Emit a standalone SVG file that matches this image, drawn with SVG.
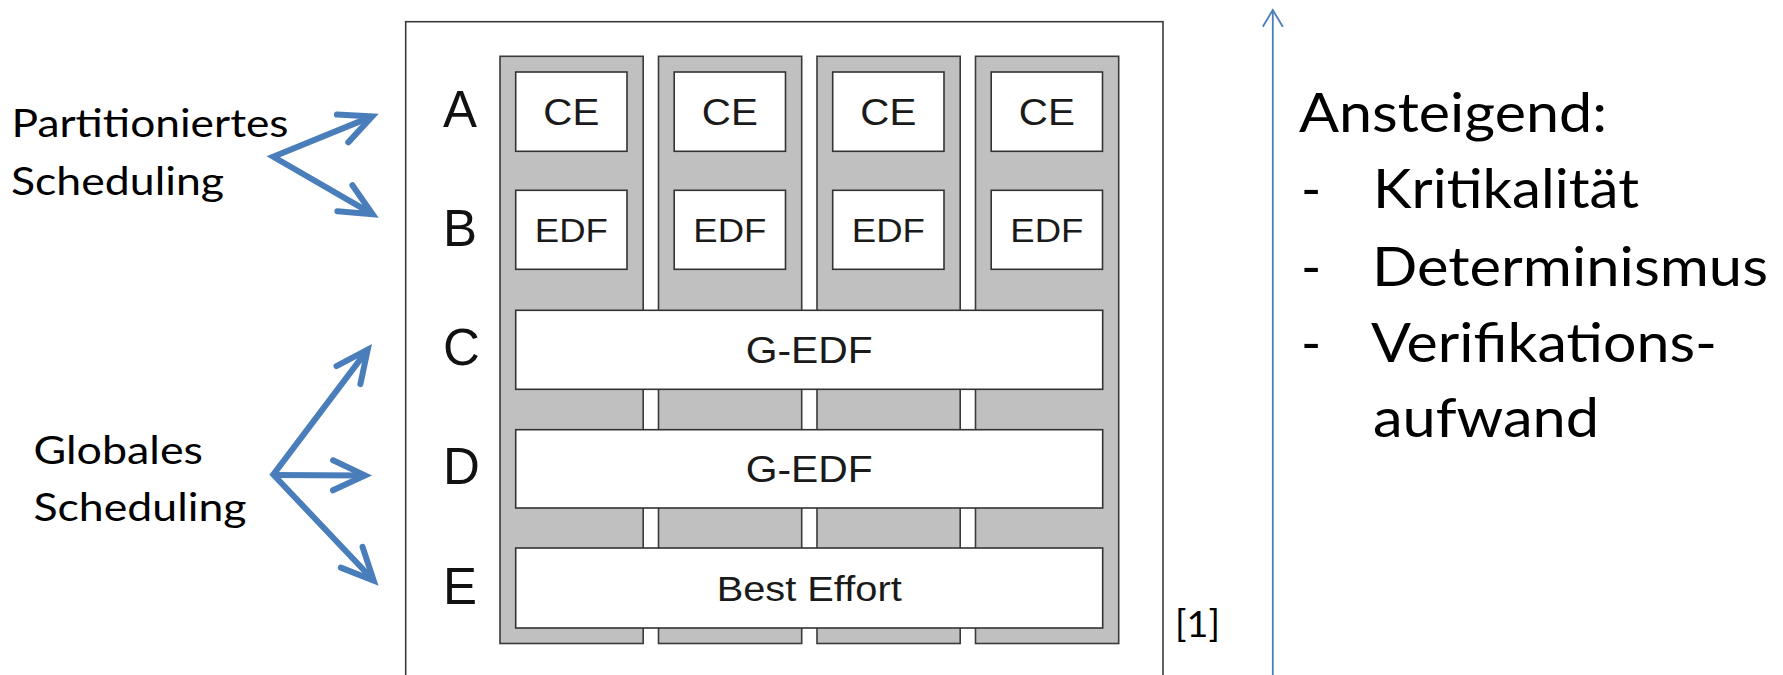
<svg xmlns="http://www.w3.org/2000/svg" width="1783" height="675" viewBox="0 0 1783 675">
<style>
.frame{fill:none;stroke:#3a3a3a;stroke-width:1.6}
.col{fill:#c0c0c0;stroke:#3a3a3a;stroke-width:1.6}
.box{fill:#ffffff;stroke:#333333;stroke-width:1.6}
.bt{font-family:"Liberation Sans",Arial,sans-serif;fill:#1a1a1a;text-anchor:middle}
.rl{font-family:"Liberation Sans",Arial,sans-serif;font-size:51px;fill:#111111}
.cal{font-family:Lato,"Open Sans",sans-serif;fill:#000000}
.arr{fill:none;stroke:#4a7ebb;stroke-width:6;stroke-linejoin:miter;stroke-linecap:butt}
.thin{fill:none;stroke:#4a7ebb;stroke-width:1.8}
</style>
<defs>
<marker id="head" markerUnits="userSpaceOnUse" orient="auto-start-reverse" refX="0" refY="0" markerWidth="60" markerHeight="60" viewBox="-40 -30 60 60" overflow="visible">
<path d="M-32,-15 L0,0 L-32,15" fill="none" stroke="#4a7ebb" stroke-width="6" stroke-linejoin="miter" stroke-linecap="round"/>
</marker>
<marker id="thinhead" markerUnits="userSpaceOnUse" orient="auto" refX="0" refY="0" markerWidth="40" markerHeight="40" viewBox="-30 -20 40 40" overflow="visible">
<path d="M-16.7,-10 L0,0 L-16.7,10" fill="none" stroke="#4a7ebb" stroke-width="1.8"/>
</marker>
</defs>

<g id="frame">
<rect class="frame" x="405.7" y="21.7" width="757.3" height="700"/>
</g>

<g id="columns">
<rect id="col1" class="col" x="500" y="56.3" width="143.2" height="587.2"/>
<rect id="col2" class="col" x="658.5" y="56.3" width="143.2" height="587.2"/>
<rect id="col3" class="col" x="817" y="56.3" width="143.2" height="587.2"/>
<rect id="col4" class="col" x="975.5" y="56.3" width="143.2" height="587.2"/>
</g>

<g id="row-labels">
<text class="rl" x="443" y="127">A</text>
<text class="rl" x="443" y="246">B</text>
<text class="rl" x="443" y="365">C</text>
<text class="rl" x="443" y="484">D</text>
<text class="rl" x="443" y="604">E</text>
</g>

<g id="ce1"><rect class="box" x="515.7" y="72" width="111.3" height="79.3"/><text class="bt" x="571.35" y="125" font-size="36" textLength="56" lengthAdjust="spacingAndGlyphs">CE</text></g>
<g id="ce2"><rect class="box" x="674.2" y="72" width="111.3" height="79.3"/><text class="bt" x="729.85" y="125" font-size="36" textLength="56" lengthAdjust="spacingAndGlyphs">CE</text></g>
<g id="ce3"><rect class="box" x="832.7" y="72" width="111.3" height="79.3"/><text class="bt" x="888.35" y="125" font-size="36" textLength="56" lengthAdjust="spacingAndGlyphs">CE</text></g>
<g id="ce4"><rect class="box" x="991.2" y="72" width="111.3" height="79.3"/><text class="bt" x="1046.85" y="125" font-size="36" textLength="56" lengthAdjust="spacingAndGlyphs">CE</text></g>

<g id="edf1"><rect class="box" x="515.7" y="190.3" width="111.3" height="79"/><text class="bt" x="571.35" y="242" font-size="33" textLength="73" lengthAdjust="spacingAndGlyphs">EDF</text></g>
<g id="edf2"><rect class="box" x="674.2" y="190.3" width="111.3" height="79"/><text class="bt" x="729.85" y="242" font-size="33" textLength="73" lengthAdjust="spacingAndGlyphs">EDF</text></g>
<g id="edf3"><rect class="box" x="832.7" y="190.3" width="111.3" height="79"/><text class="bt" x="888.35" y="242" font-size="33" textLength="73" lengthAdjust="spacingAndGlyphs">EDF</text></g>
<g id="edf4"><rect class="box" x="991.2" y="190.3" width="111.3" height="79"/><text class="bt" x="1046.85" y="242" font-size="33" textLength="73" lengthAdjust="spacingAndGlyphs">EDF</text></g>

<g id="gedf-c"><rect class="box" x="515.7" y="310.3" width="587" height="79"/><text class="bt" x="809.2" y="363" font-size="36" textLength="127" lengthAdjust="spacingAndGlyphs">G-EDF</text></g>
<g id="gedf-d"><rect class="box" x="515.7" y="429.7" width="587" height="78.3"/><text class="bt" x="809.2" y="482" font-size="36" textLength="127" lengthAdjust="spacingAndGlyphs">G-EDF</text></g>
<g id="best-effort"><rect class="box" x="515.7" y="548" width="587" height="80"/><text class="bt" x="809.2" y="601" font-size="35" textLength="185" lengthAdjust="spacingAndGlyphs">Best Effort</text></g>

<g id="label-partitioniert">
<text class="cal" x="11.5" y="137" font-size="38" textLength="277" lengthAdjust="spacingAndGlyphs">Partitioniertes</text>
<text class="cal" x="11" y="195" font-size="38" textLength="213" lengthAdjust="spacingAndGlyphs">Scheduling</text>
</g>
<g id="label-global">
<text class="cal" x="33.5" y="464" font-size="38" textLength="169.5" lengthAdjust="spacingAndGlyphs">Globales</text>
<text class="cal" x="33.5" y="521" font-size="38" textLength="213" lengthAdjust="spacingAndGlyphs">Scheduling</text>
</g>

<g id="connectors">
<path class="arr" d="M372.2,116.4 L273.3,156.8 L372.6,214.2" marker-start="url(#head)" marker-end="url(#head)"/>
<path class="arr" d="M367.7,349.6 L273.3,474.6 L373.7,580.5" marker-start="url(#head)" marker-end="url(#head)"/>
<path class="arr" d="M273.3,475 L365,475.4" marker-end="url(#head)"/>
<path class="thin" d="M1272.8,675 L1272.8,10" marker-end="url(#thinhead)"/>
</g>

<g id="ref-label">
<text class="cal" x="1175" y="637" font-size="36" textLength="45" lengthAdjust="spacingAndGlyphs">[1]</text>
</g>

<g id="ansteigend">
<text class="cal" x="1299" y="132" font-size="54.5" textLength="308" lengthAdjust="spacingAndGlyphs">Ansteigend:</text>
<text class="cal" x="1301" y="208" font-size="54.5">-</text>
<text class="cal" x="1373" y="208" font-size="54.5" textLength="266" lengthAdjust="spacingAndGlyphs">Kritikalität</text>
<text class="cal" x="1301" y="286" font-size="54.5">-</text>
<text class="cal" x="1372" y="286" font-size="54.5" textLength="396" lengthAdjust="spacingAndGlyphs">Determinismus</text>
<text class="cal" x="1301" y="362" font-size="54.5">-</text>
<text class="cal" x="1371" y="362" font-size="54.5" textLength="346" lengthAdjust="spacingAndGlyphs">Verifikations-</text>
<text class="cal" x="1373" y="437" font-size="54.5" textLength="226" lengthAdjust="spacingAndGlyphs">aufwand</text>
</g>
</svg>
